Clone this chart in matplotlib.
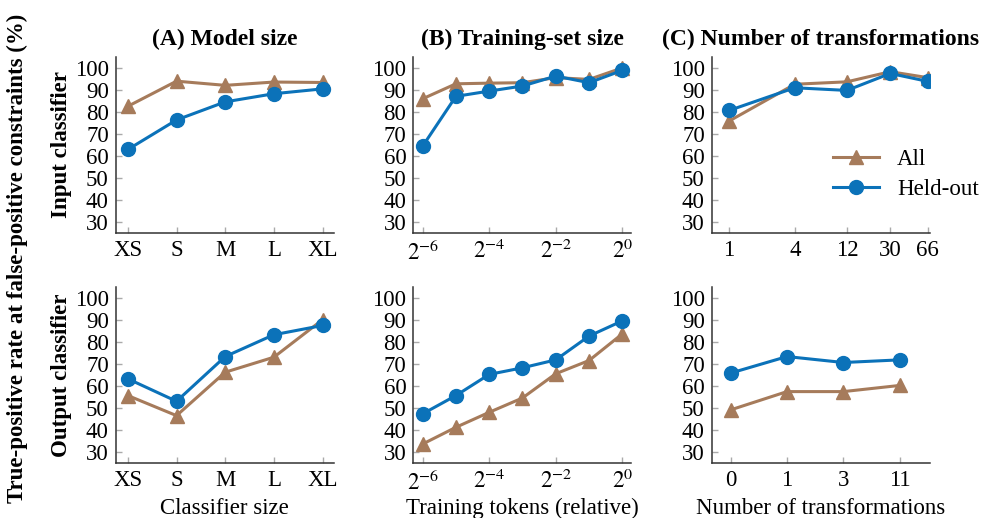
import matplotlib.pyplot as plt
from matplotlib.ticker import NullLocator

plt.rcParams['font.family'] = 'Liberation Serif'
plt.rcParams['mathtext.fontset'] = 'stix'
plt.rcParams['font.size'] = 16.5

BROWN = '#a67b5b'
BLUE = '#0b72b9'

# (A) classifier size
size_labels = ['XS', 'S', 'M', 'L', 'XL']
size_in_all = [82.5, 93.9, 92.0, 93.5, 93.3]
size_in_held = [62.9, 76.3, 84.5, 88.2, 90.4]
size_out_all = [55.6, 46.5, 66.2, 73.0, 90.0]
size_out_held = [63.2, 53.0, 73.3, 83.2, 87.4]

# (B) training tokens, relative to the full set
tokens = [2**-6, 2**-5, 2**-4, 2**-3, 2**-2, 2**-1, 2**0]
token_ticks = [2**-6, 2**-4, 2**-2, 2**0]
token_labels = ['$2^{-6}$', '$2^{-4}$', '$2^{-2}$', '$2^{0}$']
tok_in_all = [85.9, 92.7, 93.0, 93.2, 95.5, 94.7, 99.9]
tok_in_held = [64.4, 87.0, 89.4, 91.7, 96.2, 93.2, 98.8]
tok_out_all = [33.6, 41.2, 48.0, 54.5, 65.5, 71.5, 83.6]
tok_out_held = [47.3, 55.6, 65.2, 68.2, 71.8, 82.6, 89.5]

# (C) number of transformations
n_trans_in = [1, 4, 12, 30, 66]
trans_in_all = [75.8, 92.5, 93.6, 98.2, 95.5]
trans_in_held = [80.6, 90.9, 89.7, 97.4, 93.8]
n_trans_out = ['0', '1', '3', '11']
trans_out_all = [49.1, 57.4, 57.4, 60.2]
trans_out_held = [65.8, 73.3, 70.6, 71.8]

W, H = 982, 518
fig = plt.figure(figsize=(W / 100, H / 100), dpi=100)

lefts = [115.7, 413.3, 711.7]
aw = 218.0
tops = [56.7, 286.7]
ah = 176.3


def px_axes(left, top):
    return fig.add_axes([left / W, 1 - (top + ah) / H, aw / W, ah / H])


def style(ax):
    for s in ['top', 'right']:
        ax.spines[s].set_visible(False)
    for s in ['left', 'bottom']:
        ax.spines[s].set_color('#333333')
        ax.spines[s].set_linewidth(1.1)
    ax.set_ylim(25, 105)
    ax.set_yticks(range(30, 101, 10))
    ax.tick_params(direction='in', length=4.5, width=1, color='#aaaaaa')
    ax.tick_params(axis='x', pad=5)
    ax.tick_params(axis='y', pad=5)
    ax.xaxis.set_minor_locator(NullLocator())


def draw(ax, x, all_vals, held_vals):
    ax.plot(x, all_vals, color=BROWN, marker='^', ms=9.5, lw=2.2, label='All')
    ax.plot(x, held_vals, color=BLUE, marker='o', ms=10, lw=2.2, label='Held-out')


axes = [[px_axes(l, t) for l in lefts] for t in tops]

for row, (a_all, a_held, b_all, b_held) in enumerate([
        (size_in_all, size_in_held, tok_in_all, tok_in_held),
        (size_out_all, size_out_held, tok_out_all, tok_out_held)]):
    ax = axes[row][0]
    draw(ax, range(len(size_labels)), a_all, a_held)
    ax.set_xticks(range(len(size_labels)))
    ax.set_xticklabels(size_labels)
    ax.set_xlim(-0.25, 4.23)
    style(ax)

    ax = axes[row][1]
    draw(ax, tokens, b_all, b_held)
    ax.set_xscale('log', base=2)
    ax.set_xticks(token_ticks)
    ax.set_xticklabels(token_labels)
    ax.set_xlim(2**-6.28, 2**0.27)
    style(ax)

ax = axes[0][2]
draw(ax, n_trans_in, trans_in_all, trans_in_held)
ax.set_xscale('log')
ax.set_xticks(n_trans_in)
ax.set_xticklabels([str(n) for n in n_trans_in])
ax.set_xlim(0.693, 68.9)
style(ax)
ax.legend(loc='upper left', bbox_to_anchor=(832.7 / W, 1 - 149 / H),
          bbox_transform=fig.transFigure, frameon=False, borderpad=0,
          borderaxespad=0, handlelength=2.0, handletextpad=0.8,
          labelspacing=0.4)

ax = axes[1][2]
draw(ax, range(len(n_trans_out)), trans_out_all, trans_out_held)
ax.set_xticks(range(len(n_trans_out)))
ax.set_xticklabels(n_trans_out)
ax.set_xlim(-0.335, 3.53)
style(ax)

titles = ['(A) Model size', '(B) Training-set size', '(C) Number of transformations']
xlabels = ['Classifier size', 'Training tokens (relative)', 'Number of transformations']
for col in range(3):
    axes[0][col].set_title(titles[col], fontweight='bold', fontsize=17, pad=8.5)
    cx = (lefts[col] + aw / 2) / W
    fig.text(cx, 1 - 514 / H, xlabels[col], ha='center', va='baseline')

for row, name in enumerate(['Input classifier', 'Output classifier']):
    cy = 1 - (tops[row] + ah / 2) / H
    fig.text(62 / W, cy, name, rotation=90, ha='center', va='center',
             fontweight='bold')

fig.text(17 / W, 1 - 258 / H,
         'True-positive rate at false-positive constraints (%)',
         rotation=90, ha='center', va='center', fontweight='bold')

fig.savefig('out.png', dpi=100)
